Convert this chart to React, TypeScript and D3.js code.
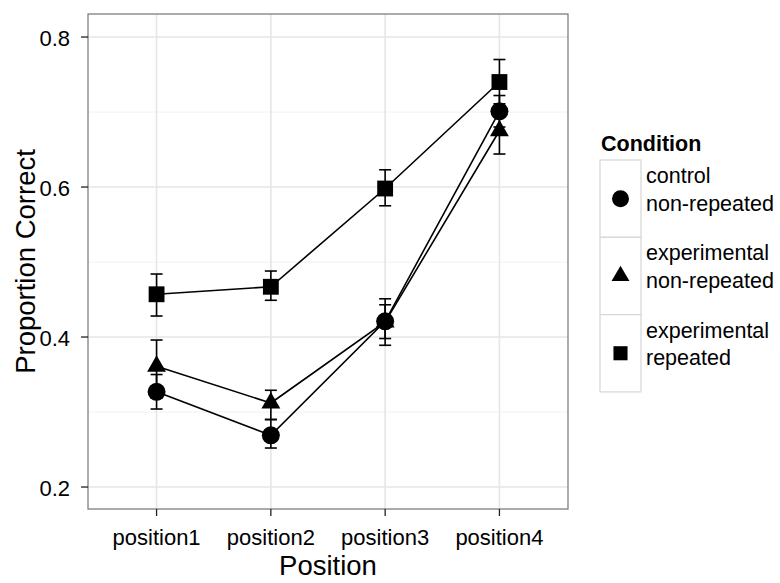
import React from "react";
import * as d3 from "d3";

const positions = ["position1", "position2", "position3", "position4"];
const conditions = ["control\nnon-repeated", "experimental\nnon-repeated", "experimental\nrepeated"];
const shapes = ["circle", "triangle", "square"];

const controlMean = [0.327, 0.269, 0.421, 0.701];
const controlLow = [0.304, 0.252, 0.389, 0.68];
const controlHigh = [0.35, 0.29, 0.451, 0.722];

const expNonRepMean = [0.361, 0.312, 0.42, 0.675];
const expNonRepLow = [0.327, 0.29, 0.398, 0.644];
const expNonRepHigh = [0.396, 0.329, 0.443, 0.706];

const expRepMean = [0.457, 0.467, 0.598, 0.74];
const expRepLow = [0.428, 0.449, 0.575, 0.711];
const expRepHigh = [0.484, 0.488, 0.623, 0.77];

const yTicks = [0.2, 0.4, 0.6, 0.8];
const yMinor = [0.3, 0.5, 0.7];

const series = [
  { mean: controlMean, low: controlLow, high: controlHigh },
  { mean: expNonRepMean, low: expNonRepLow, high: expNonRepHigh },
  { mean: expRepMean, low: expRepLow, high: expRepHigh },
];

const W = 780;
const H = 583;
const panel = { left: 88, right: 568, top: 14, bottom: 509 };
const FONT = "'Liberation Sans', Arial, Helvetica, sans-serif";

function Marker({ shape, x, y, size }: { shape: string; x: number; y: number; size: number }) {
  if (shape === "circle") return <circle cx={x} cy={y} r={size / 2} fill="#000" />;
  if (shape === "square") {
    const s = size * 0.88;
    return <rect x={x - s / 2} y={y - s / 2} width={s} height={s} fill="#000" />;
  }
  const b = size * 1.05;
  const h = b * 0.866;
  const pts = [
    [x, y - (2 * h) / 3],
    [x - b / 2, y + h / 3],
    [x + b / 2, y + h / 3],
  ];
  return <polygon points={pts.map((p) => p.join(",")).join(" ")} fill="#000" />;
}

export default function App() {
  const x = d3
    .scalePoint<string>()
    .domain(positions)
    .range([panel.left, panel.right])
    .padding(0.6);
  const y = d3
    .scaleLinear()
    .domain([0.1707, 0.8307])
    .range([panel.bottom, panel.top]);

  const line = d3
    .line<number>()
    .x((_, i) => x(positions[i]) as number)
    .y((d) => y(d));

  const legendX = 600;
  const keyW = 41;
  const keyH = 77.3;
  const keyTop = 160;

  return (
    <svg width={W} height={H} style={{ position: "absolute", left: 0, top: 0 }} fontFamily={FONT}>
      <rect x={0} y={0} width={W} height={H} fill="#fff" />
      {/* panel background and grid */}
      <rect x={panel.left} y={panel.top} width={panel.right - panel.left} height={panel.bottom - panel.top} fill="#fff" />
      {yMinor.map((t) => (
        <line key={"mn" + t} x1={panel.left} x2={panel.right} y1={y(t)} y2={y(t)} stroke="#f4f4f4" strokeWidth={1.2} />
      ))}
      {yTicks.map((t) => (
        <line key={"mj" + t} x1={panel.left} x2={panel.right} y1={y(t)} y2={y(t)} stroke="#e6e6e6" strokeWidth={1.6} />
      ))}
      {positions.map((p) => (
        <line key={"vx" + p} x1={x(p)} x2={x(p)} y1={panel.top} y2={panel.bottom} stroke="#e6e6e6" strokeWidth={1.6} />
      ))}

      {/* connecting lines */}
      {series.map((s, i) => (
        <path key={"ln" + i} d={line(s.mean) || ""} fill="none" stroke="#000" strokeWidth={1.6} />
      ))}

      {/* error bars */}
      {series.map((s, i) =>
        s.mean.map((_, j) => {
          const cx = x(positions[j]) as number;
          const w = 6;
          return (
            <g key={"eb" + i + j} stroke="#000" strokeWidth={1.6}>
              <line x1={cx} x2={cx} y1={y(s.low[j])} y2={y(s.high[j])} />
              <line x1={cx - w} x2={cx + w} y1={y(s.low[j])} y2={y(s.low[j])} />
              <line x1={cx - w} x2={cx + w} y1={y(s.high[j])} y2={y(s.high[j])} />
            </g>
          );
        })
      )}

      {/* points */}
      {series.map((s, i) =>
        s.mean.map((v, j) => (
          <Marker key={"pt" + i + j} shape={shapes[i]} x={x(positions[j]) as number} y={y(v)} size={18} />
        ))
      )}

      {/* panel border */}
      <rect
        x={panel.left}
        y={panel.top}
        width={panel.right - panel.left}
        height={panel.bottom - panel.top}
        fill="none"
        stroke="#7f7f7f"
        strokeWidth={1.3}
      />

      {/* y axis */}
      {yTicks.map((t) => (
        <g key={"yt" + t}>
          <line x1={panel.left - 7} x2={panel.left} y1={y(t)} y2={y(t)} stroke="#222" strokeWidth={1.3} />
          <text x={70} y={y(t) + 8.5} textAnchor="end" fontSize={22} fill="#000">
            {t.toFixed(1)}
          </text>
        </g>
      ))}
      <text
        transform={`translate(35, ${(panel.top + panel.bottom) / 2}) rotate(-90)`}
        textAnchor="middle"
        fontSize={27.5}
        fill="#000"
      >
        Proportion Correct
      </text>

      {/* x axis */}
      {positions.map((p) => (
        <g key={"xt" + p}>
          <line x1={x(p)} x2={x(p)} y1={panel.bottom} y2={panel.bottom + 7} stroke="#222" strokeWidth={1.3} />
          <text x={x(p)} y={545} textAnchor="middle" fontSize={22} fill="#000">
            {p}
          </text>
        </g>
      ))}
      <text x={(panel.left + panel.right) / 2} y={575} textAnchor="middle" fontSize={27.5} fill="#000">
        Position
      </text>

      {/* legend */}
      <text x={legendX + 1} y={150.5} fontSize={21.5} fontWeight="bold" fill="#000">
        Condition
      </text>
      {conditions.map((c, i) => {
        const top = keyTop + i * keyH;
        const cy = top + keyH / 2;
        const lines = c.split("\n");
        return (
          <g key={"lg" + i}>
            <rect x={legendX} y={top} width={keyW} height={keyH} fill="#fff" stroke="#d6d6d6" strokeWidth={1.2} />
            <Marker shape={shapes[i]} x={legendX + keyW / 2} y={cy} size={i === 2 ? 16 : 17} />
            {lines.map((l, k) => (
              <text key={k} x={646} y={cy - 15.5 + k * 27.5} fontSize={21.5} fill="#000">
                {l}
              </text>
            ))}
          </g>
        );
      })}
    </svg>
  );
}
